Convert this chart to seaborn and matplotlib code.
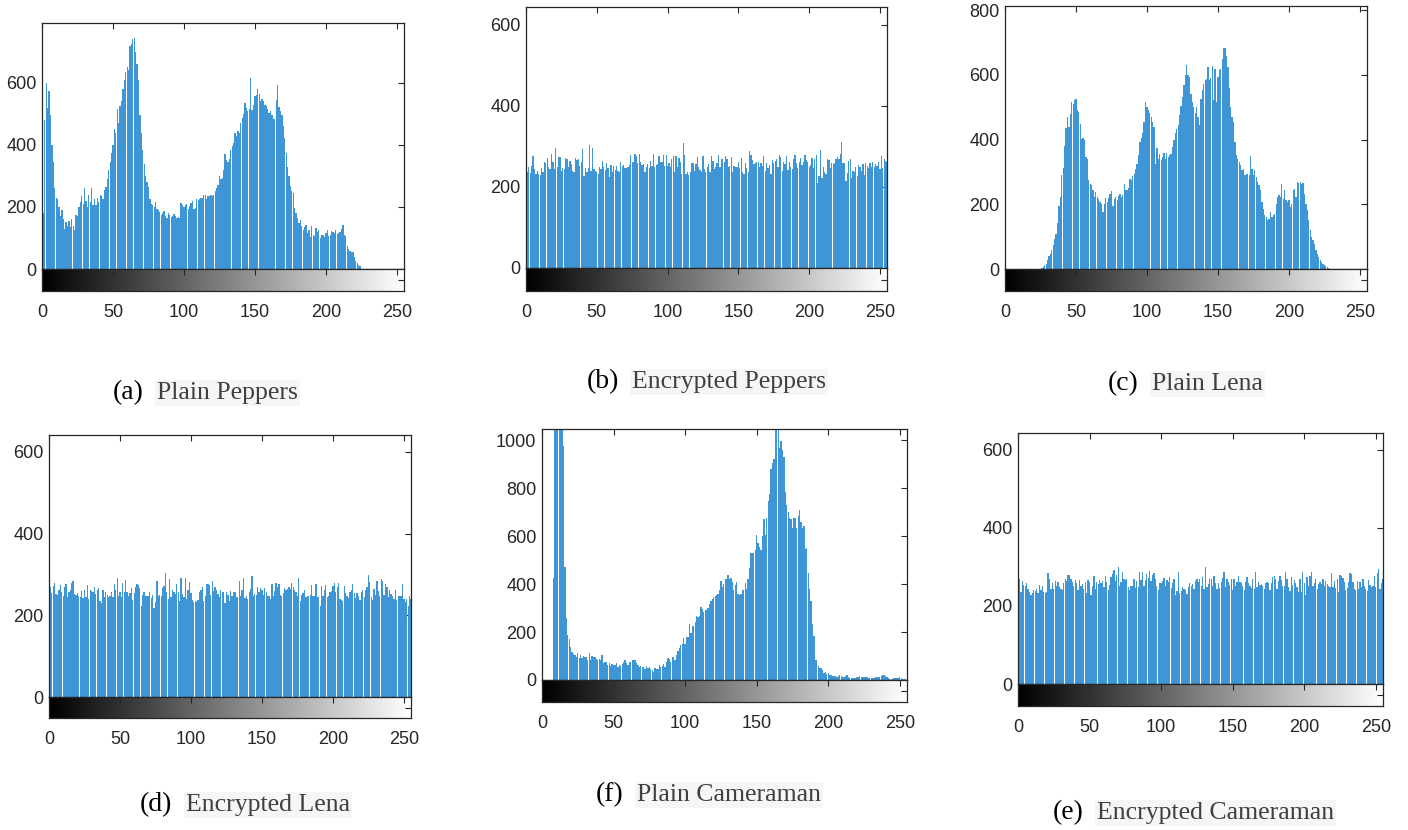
import numpy as np
import matplotlib
matplotlib.use("Agg")
import matplotlib.pyplot as plt
import seaborn as sns

# gray levels 0..255
levels = np.arange(256)

# (a) Plain Peppers
peppers_plain = [
    65, 180, 480, 600, 520, 575, 495, 400, 345, 260, 230, 225, 200, 170, 190, 160,
    130, 150, 140, 155, 135, 160, 140, 125, 175, 170, 200, 215, 235, 210, 260, 220,
    200, 240, 215, 260, 205, 225, 205, 230, 215, 240, 235, 225, 255, 265, 290, 320,
    345, 375, 400, 450, 440, 515, 470, 525, 540, 580, 610, 635, 650, 640, 720, 725,
    740, 745, 700, 660, 610, 495, 440, 385, 340, 300, 280, 265, 225, 210, 205, 200,
    215, 195, 190, 185, 175, 180, 186, 170, 165, 180, 175, 168, 172, 178, 170, 165,
    168, 165, 213, 205, 200, 207, 210, 195, 202, 212, 218, 195, 197, 225, 222, 227,
    228, 230, 238, 240, 225, 236, 234, 238, 236, 240, 250, 262, 270, 299, 290, 293,
    320, 372, 350, 345, 353, 385, 395, 405, 438, 430, 444, 440, 470, 487, 500, 535,
    520, 510, 516, 615, 514, 530, 557, 560, 580, 565, 540, 548, 540, 530, 525, 515,
    503, 510, 498, 485, 482, 546, 594, 522, 510, 497, 460, 422, 374, 330, 299, 267,
    250, 245, 197, 180, 165, 148, 159, 140, 127, 135, 143, 116, 127, 103, 138, 110,
    105, 132, 120, 127, 100, 110, 108, 103, 115, 127, 105, 110, 122, 118, 116, 125,
    112, 116, 120, 128, 142, 110, 105, 73, 65, 57, 55, 55, 40, 25, 19, 12,
    9, 0, 0, 0, 0, 0, 0, 0, 0, 0, 0, 0, 0, 0, 0, 0,
    0, 0, 0, 0, 0, 0, 0, 0, 0, 0, 0, 0, 0, 0, 0, 0,
]

# (b) Encrypted Peppers
peppers_enc = [
    262, 236, 248, 235, 252, 276, 244, 233, 240, 231, 230, 246, 237, 262, 258, 272,
    250, 244, 281, 262, 245, 296, 250, 275, 274, 240, 247, 244, 271, 270, 248, 263,
    257, 239, 237, 272, 266, 270, 252, 262, 294, 228, 246, 238, 246, 304, 240, 296,
    244, 240, 236, 232, 249, 245, 264, 249, 241, 258, 247, 224, 254, 237, 252, 242,
    251, 240, 236, 262, 251, 254, 247, 246, 248, 255, 278, 262, 262, 281, 276, 260,
    282, 262, 254, 256, 238, 250, 256, 246, 264, 252, 282, 249, 255, 256, 276, 262,
    262, 280, 252, 278, 251, 259, 248, 268, 276, 238, 276, 250, 271, 262, 232, 308,
    280, 232, 238, 230, 236, 259, 260, 239, 256, 274, 250, 242, 236, 276, 244, 236,
    248, 256, 236, 276, 263, 244, 248, 258, 278, 250, 268, 270, 262, 276, 270, 250,
    252, 274, 236, 252, 248, 248, 262, 246, 272, 236, 232, 260, 246, 236, 288, 278,
    266, 256, 258, 262, 262, 248, 260, 252, 276, 240, 258, 246, 254, 232, 266, 260,
    264, 270, 250, 278, 274, 240, 262, 256, 276, 242, 262, 248, 244, 270, 280, 258,
    246, 262, 272, 254, 262, 280, 266, 262, 248, 254, 272, 246, 270, 278, 210, 226,
    292, 222, 248, 238, 232, 270, 266, 246, 260, 256, 258, 270, 274, 268, 282, 310,
    258, 260, 214, 234, 264, 270, 222, 240, 236, 248, 226, 254, 248, 240, 256, 230,
    260, 252, 246, 260, 250, 262, 250, 256, 252, 262, 244, 276, 246, 270, 264, 262,
]

# (c) Plain Lena
lena_plain = [
    0, 0, 0, 0, 0, 0, 0, 0, 0, 0, 0, 0, 0, 0, 0, 0,
    0, 0, 0, 0, 0, 0, 0, 0, 0, 0, 2, 5, 11, 16, 28, 39,
    47, 60, 75, 94, 109, 142, 195, 223, 290, 313, 380, 436, 470, 439, 478, 516,
    510, 522, 524, 491, 486, 449, 403, 405, 398, 346, 341, 274, 264, 259, 245, 223,
    238, 223, 215, 207, 202, 175, 200, 221, 207, 220, 233, 241, 195, 217, 223, 212,
    225, 233, 223, 228, 264, 243, 245, 250, 279, 274, 288, 295, 310, 326, 352, 393,
    405, 419, 455, 516, 501, 491, 481, 470, 455, 439, 326, 374, 341, 356, 336, 346,
    359, 340, 360, 346, 352, 355, 377, 398, 420, 432, 444, 475, 503, 532, 568, 600,
    630, 599, 592, 542, 516, 501, 481, 501, 470, 444, 524, 553, 573, 583, 586, 625,
    585, 590, 627, 522, 617, 516, 593, 614, 619, 650, 684, 684, 658, 625, 561, 501,
    470, 455, 393, 352, 341, 331, 320, 305, 310, 290, 295, 295, 290, 350, 310, 290,
    305, 284, 270, 259, 243, 207, 187, 166, 161, 151, 155, 176, 161, 166, 171, 202,
    223, 230, 223, 264, 217, 243, 212, 207, 212, 192, 200, 245, 246, 223, 269, 265,
    269, 264, 266, 233, 202, 181, 151, 120, 100, 89, 78, 60, 47, 37, 27, 22,
    16, 11, 8, 5, 2, 0, 0, 0, 0, 0, 0, 0, 0, 0, 0, 0,
    0, 0, 0, 0, 0, 0, 0, 0, 0, 0, 0, 0, 0, 0, 0, 0,
]

# (d) Encrypted Lena
lena_enc = [
    256, 268, 255, 272, 280, 253, 250, 262, 274, 258, 246, 268, 276, 244, 258, 262,
    280, 284, 252, 250, 255, 246, 245, 260, 242, 262, 244, 274, 240, 262, 260, 258,
    268, 252, 262, 266, 234, 230, 262, 244, 258, 250, 244, 248, 256, 244, 276, 262,
    292, 248, 256, 244, 280, 258, 286, 256, 246, 254, 266, 238, 254, 270, 276, 274,
    266, 222, 250, 256, 246, 247, 246, 258, 242, 250, 218, 232, 284, 246, 250, 246,
    266, 272, 303, 256, 240, 288, 244, 262, 258, 252, 276, 256, 236, 290, 252, 244,
    290, 240, 262, 282, 254, 238, 232, 234, 232, 238, 258, 262, 270, 236, 248, 276,
    276, 274, 250, 284, 260, 268, 262, 252, 244, 262, 258, 256, 230, 258, 250, 234,
    260, 246, 258, 256, 244, 244, 284, 248, 262, 292, 242, 246, 240, 258, 264, 296,
    246, 252, 250, 270, 258, 266, 262, 250, 266, 256, 246, 248, 240, 276, 246, 260,
    280, 268, 276, 250, 246, 254, 266, 262, 264, 270, 264, 278, 268, 262, 256, 248,
    292, 236, 250, 254, 262, 244, 248, 248, 250, 274, 248, 248, 276, 244, 244, 222,
    272, 246, 262, 274, 244, 246, 256, 260, 272, 278, 256, 270, 280, 240, 238, 236,
    272, 254, 246, 242, 258, 262, 276, 254, 242, 254, 246, 238, 258, 262, 244, 262,
    268, 298, 282, 244, 238, 264, 250, 284, 260, 248, 288, 284, 250, 276, 270, 244,
    262, 252, 246, 240, 262, 238, 248, 248, 246, 276, 240, 232, 240, 222, 248, 240,
]

# (f) Plain Cameraman
cameraman_plain = [
    0, 0, 0, 0, 0, 0, 0, 0, 425, 1380, 1850, 2100, 1900, 1500, 1250, 975,
    472, 260, 186, 169, 138, 115, 108, 106, 96, 113, 92, 106, 92, 99, 95, 96,
    85, 113, 85, 99, 96, 96, 87, 85, 88, 82, 106, 70, 73, 73, 63, 70,
    59, 68, 64, 63, 70, 56, 63, 59, 66, 73, 82, 70, 63, 73, 77, 85,
    85, 82, 70, 63, 56, 59, 54, 54, 45, 59, 49, 56, 45, 40, 35, 49,
    45, 45, 63, 54, 58, 68, 56, 77, 92, 87, 73, 96, 96, 85, 106, 120,
    134, 144, 150, 176, 152, 180, 180, 232, 197, 225, 225, 242, 268, 261, 268, 303,
    296, 285, 290, 293, 300, 317, 331, 338, 345, 352, 355, 360, 373, 411, 387, 401,
    420, 420, 437, 420, 425, 408, 377, 394, 408, 359, 355, 359, 377, 377, 404, 380,
    420, 465, 528, 528, 528, 542, 603, 570, 556, 542, 600, 669, 603, 676, 746, 777,
    880, 904, 922, 1200, 1350, 1100, 965, 997, 960, 930, 782, 730, 700, 676, 673, 634,
    676, 676, 634, 683, 707, 660, 634, 641, 546, 549, 444, 380, 331, 232, 183, 85,
    85, 60, 49, 49, 42, 28, 35, 25, 31, 21, 21, 18, 17, 17, 14, 16,
    21, 15, 14, 14, 18, 21, 14, 7, 9, 7, 7, 10, 11, 14, 17, 14,
    14, 12, 11, 11, 9, 7, 7, 9, 7, 12, 14, 13, 14, 17, 19, 21,
    15, 11, 8, 3, 5, 6, 7, 7, 9, 10, 14, 8, 6, 4, 3, 2,
]

# (e) Encrypted Cameraman
cameraman_enc = [
    246, 270, 236, 264, 254, 250, 258, 244, 236, 228, 234, 242, 238, 244, 234, 254,
    240, 252, 236, 234, 236, 284, 268, 244, 260, 244, 264, 250, 262, 248, 244, 240,
    258, 270, 264, 280, 278, 270, 262, 250, 266, 258, 242, 266, 252, 256, 244, 262,
    232, 266, 262, 228, 250, 276, 244, 262, 256, 266, 260, 264, 248, 276, 262, 240,
    254, 274, 282, 292, 264, 280, 300, 250, 262, 286, 268, 266, 270, 248, 242, 250,
    252, 270, 246, 264, 248, 286, 266, 288, 252, 266, 282, 272, 290, 264, 280, 284,
    270, 252, 242, 258, 260, 264, 272, 250, 266, 262, 274, 246, 258, 270, 228, 238,
    288, 234, 238, 248, 244, 242, 230, 248, 260, 252, 256, 244, 264, 270, 262, 268,
    250, 274, 244, 300, 248, 256, 270, 268, 252, 276, 258, 244, 258, 246, 262, 272,
    286, 248, 268, 262, 254, 270, 242, 270, 250, 262, 276, 262, 260, 250, 242, 262,
    274, 260, 252, 246, 270, 244, 286, 248, 262, 254, 256, 252, 244, 258, 262, 258,
    240, 260, 274, 276, 268, 244, 264, 276, 266, 250, 250, 286, 270, 248, 238, 274,
    254, 266, 260, 248, 236, 270, 236, 286, 258, 228, 274, 250, 276, 288, 250, 260,
    268, 244, 256, 262, 256, 270, 250, 264, 256, 252, 248, 284, 248, 264, 246, 270,
    236, 280, 276, 272, 262, 242, 246, 262, 284, 282, 262, 244, 242, 264, 244, 262,
    248, 270, 250, 244, 238, 266, 254, 248, 250, 276, 248, 284, 294, 244, 258, 270,
]

tags = ["(a)", "(b)", "(c)", "(d)", "(f)", "(e)"]
names = ["Plain Peppers", "Encrypted Peppers", "Plain Lena",
         "Encrypted Lena", "Plain Cameraman", "Encrypted Cameraman"]
series = [peppers_plain, peppers_enc, lena_plain, lena_enc, cameraman_plain, cameraman_enc]
ytops = [793, 644, 813, 641, 1046, 643]
ytick_sets = [[0, 200, 400, 600], [0, 200, 400, 600], [0, 200, 400, 600, 800],
              [0, 200, 400, 600], [0, 200, 400, 600, 800, 1000], [0, 200, 400, 600]]
xticks = [0, 50, 100, 150, 200, 250]

# pixel layout: left, top, right, zero line, colorbar bottom
boxes = [(42, 23, 404, 269, 291), (526, 7, 887, 268, 291), (1005, 6, 1367, 269, 291),
         (49, 435, 411, 697, 718), (542, 429, 907, 680, 702), (1018, 433, 1383, 684, 706)]
# caption: tag x, label x, baseline y
captions = [(113, 157, 399), (587, 632, 388), (1108, 1152, 390),
            (140, 186, 811), (596, 637, 801), (1053, 1097, 819)]

W, H = 1408, 830
BAR = "#3f96d6"
INK = "#262626"

sns.set_style("white")
plt.rcParams["font.family"] = ["Liberation Sans", "DejaVu Sans"]

fig = plt.figure(figsize=(W / 100, H / 100), dpi=100)
gradient = np.linspace(0, 1, 256).reshape(1, -1)

for i in range(6):
    l, t, r, z, b = boxes[i]
    ax = fig.add_axes([l / W, 1 - z / H, (r - l) / W, (z - t) / H])
    sns.barplot(x=levels, y=series[i], native_scale=True, color=BAR, saturation=1,
                width=0.9, linewidth=0, errorbar=None, ax=ax)
    ax.set_xlim(0, 255)
    ax.set_ylim(0, ytops[i])
    ax.set_xlabel("")
    ax.set_ylabel("")
    ax.set_xticks(xticks)
    ax.set_yticks(ytick_sets[i])
    ax.tick_params(direction="in", length=4, width=0.8, color=INK, top=True, right=True,
                   labelbottom=False, labelsize=13, labelcolor=INK, pad=4)
    for sp in ax.spines.values():
        sp.set_color(INK)
        sp.set_linewidth(0.9)

    cax = fig.add_axes([l / W, 1 - b / H, (r - l) / W, (b - z) / H])
    cax.imshow(gradient, aspect="auto", cmap="gray", extent=(0, 255, 0, 1))
    cax.set_xlim(0, 255)
    cax.set_ylim(0, 1)
    cax.set_xticks(xticks)
    cax.set_yticks([0.5])
    cax.set_yticklabels([])
    cax.tick_params(direction="in", length=4, width=0.8, color=INK, top=True, right=True,
                    left=False, labelsize=13, labelcolor=INK, pad=9)
    for sp in cax.spines.values():
        sp.set_color(INK)
        sp.set_linewidth(0.9)

    tx, lx, by = captions[i]
    fig.text(tx / W, 1 - by / H, tags[i], family="Liberation Serif", fontsize=20,
             color="black", va="baseline", ha="left")
    fig.text(lx / W, 1 - by / H, names[i], family="Liberation Serif", fontsize=18.5,
             color="#404040", va="baseline", ha="left",
             bbox=dict(facecolor="#f6f6f6", edgecolor="none", pad=1.5))

fig.savefig("out.png", dpi=100)
